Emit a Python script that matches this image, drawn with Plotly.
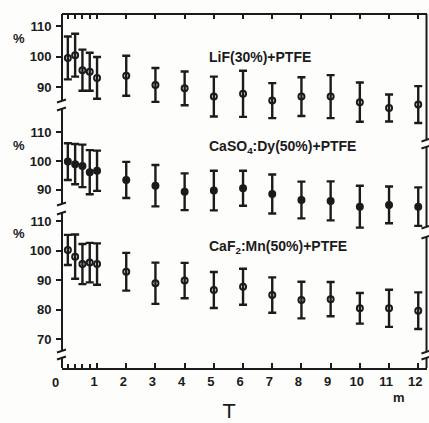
import plotly.graph_objects as go

# ---- data ----
TIME = [0, 0.25, 0.5, 0.75, 1, 2, 3, 4, 5, 6, 7, 8, 9, 10, 11, 12]
XTICK_LABELS = ["0", "", "", "", "1", "2", "3", "4", "5", "6", "7", "8", "9", "10", "11", "12"]

LIF_VAL = [99.6, 100.5, 95.6, 95.1, 93.1, 93.8, 90.8, 89.7, 87.0, 87.9, 85.7, 87.0, 87.0, 85.2, 83.3, 84.4]
LIF_ERR = [7.0, 7.0, 6.7, 6.2, 6.8, 6.5, 5.5, 5.5, 6.5, 7.5, 5.7, 6.3, 7.0, 6.4, 4.4, 6.0]

CASO4_VAL = [99.8, 98.9, 98.3, 96.1, 96.6, 93.4, 91.4, 89.3, 89.7, 90.5, 88.5, 86.4, 86.1, 84.1, 84.7, 84.1]
CASO4_ERR = [6.4, 7.0, 7.4, 7.7, 7.0, 6.3, 7.2, 6.4, 6.9, 6.1, 6.8, 6.4, 6.8, 7.3, 6.4, 6.7]

CAF2_VAL = [100.2, 97.9, 95.4, 95.9, 95.4, 92.8, 88.9, 89.8, 86.6, 87.7, 84.9, 83.2, 83.5, 80.4, 80.4, 79.6]
CAF2_ERR = [5.1, 7.5, 6.8, 6.7, 7.0, 6.4, 7.0, 6.0, 6.1, 6.1, 6.0, 6.2, 5.8, 5.2, 6.3, 6.2]

PANEL_NAMES = ["LiF(30%)+PTFE", "CaSO<sub>4</sub>:Dy(50%)+PTFE", "CaF<sub>2</sub>:Mn(50%)+PTFE"]
Y_TICKS_TOP = [90, 100, 110]
Y_TICKS_MID = [90, 100, 110]
Y_TICKS_BOT = [70, 80, 90, 100, 110]

INK = "#1b1b1b"
BG = "#fdfdfb"
FONT = "Liberation Sans"

W, H = 429, 423
ML, MR, MT, MB = 62, 2, 14, 55
PW, PH = W - ML - MR, H - MT - MB


def px_x(px):
    return (px - ML) / PW


def px_y(py):
    return (H - MB - py) / PH


fig = go.Figure()

panels = [
    (LIF_VAL, LIF_ERR, "y", "circle-open"),
    (CASO4_VAL, CASO4_ERR, "y2", "circle"),
    (CAF2_VAL, CAF2_ERR, "y3", "circle-open"),
]
for vals, errs, yax, sym in panels:
    fig.add_trace(go.Scatter(
        x=TIME, y=vals, xaxis="x", yaxis=yax, mode="markers",
        cliponaxis=False, showlegend=False, hoverinfo="skip",
        marker=dict(symbol=sym, size=6, color=INK, line=dict(width=2, color=INK)),
        error_y=dict(type="data", array=errs, visible=True, thickness=2.4, width=4, color=INK),
    ))

# invisible trace to realise the top (mirrored) x axis
fig.add_trace(go.Scatter(x=TIME[:1], y=LIF_VAL[:1], xaxis="x2", yaxis="y", mode="markers",
                         marker=dict(opacity=0), showlegend=False, hoverinfo="skip"))

tickfont = dict(family=FONT, size=13, color=INK, weight="bold")

yax_common = dict(anchor="x", showline=False, showgrid=False, zeroline=False,
                  ticks="outside", ticklen=5, tickwidth=2, tickcolor=INK,
                  tickfont=tickfont, ticklabelstandoff=2)

major_x = TIME[4:]
major_lbl = XTICK_LABELS[4:]
minor_x = TIME[:4]

fig.update_layout(
    width=W, height=H, autosize=False,
    margin=dict(l=ML, r=MR, t=MT, b=MB),
    paper_bgcolor=BG, plot_bgcolor="rgba(0,0,0,0)",
    xaxis=dict(domain=[0, 1], range=[-0.2, 12.3], anchor="y3",
               showline=True, linewidth=2, linecolor=INK, showgrid=False, zeroline=False,
               ticks="inside", ticklen=5, tickwidth=2, tickcolor=INK,
               tickmode="array", tickvals=major_x, ticktext=major_lbl,
               minor=dict(tickmode="array", tickvals=minor_x, ticks="inside", ticklen=4,
                          tickwidth=2, tickcolor=INK, showgrid=False),
               tickfont=tickfont, ticklabelshift=-3),
    xaxis2=dict(overlaying="x", matches="x", anchor="free", position=1, side="top",
                showline=True, linewidth=2, linecolor=INK, showgrid=False, zeroline=False,
                ticks="inside", ticklen=4, tickwidth=2, tickcolor=INK,
                tickmode="array", tickvals=major_x, showticklabels=False,
                minor=dict(tickmode="array", tickvals=minor_x, ticks="inside", ticklen=4,
                           tickwidth=2, tickcolor=INK, showgrid=False)),
    yaxis=dict(domain=[px_y(130), 1], range=[100 - (130 - 56.7) / 3.07, 100 + (56.7 - 14) / 3.07],
               tickmode="array", tickvals=Y_TICKS_TOP, **yax_common),
    yaxis2=dict(domain=[px_y(235), px_y(108)], range=[100 - (235 - 161) / 2.87, 100 + (161 - 108) / 2.87],
                tickmode="array", tickvals=Y_TICKS_MID, **yax_common),
    yaxis3=dict(domain=[0, px_y(212)], range=[100 - (368 - 250.5) / 2.95, 100 + (250.5 - 212) / 2.95],
                tickmode="array", tickvals=Y_TICKS_BOT, **yax_common),
)

# frame segments (left and right) with axis-break marks
shapes = []
line = dict(color=INK, width=2)
left_segments = [(14, 101), (109, 204), (213, 351), (358, 368)]
right_segments = [(14, 140), (147, 227), (237, 352), (358, 368)]
for xp, segs in ((62, left_segments), (426.5, right_segments)):
    for (a, b) in segs:
        shapes.append(dict(type="line", xref="paper", yref="paper",
                           x0=px_x(xp), x1=px_x(xp), y0=px_y(a), y1=px_y(b), line=line))
    for i, (a, b) in enumerate(segs):
        ends = []
        if i > 0:
            ends.append(a)
        if i < len(segs) - 1:
            ends.append(b)
        for e in ends:
            shapes.append(dict(type="line", xref="paper", yref="paper",
                               x0=px_x(xp - 5), x1=px_x(xp + 4),
                               y0=px_y(e + 1.5), y1=px_y(e - 1.5), line=line))
fig.update_layout(shapes=shapes)

ann = []
label_font = dict(family=FONT, size=14, color=INK, weight="bold")
for name, yp in zip(PANEL_NAMES, (57, 147, 247)):
    ann.append(dict(text=name, xref="paper", yref="paper", x=px_x(207), y=px_y(yp),
                    xanchor="left", yanchor="middle", showarrow=False, font=label_font))
for yp in (38, 145, 233):
    ann.append(dict(text="%", xref="paper", yref="paper", x=px_x(19), y=px_y(yp),
                    xanchor="center", yanchor="middle", showarrow=False, font=tickfont))
# origin label "0" sits left of the axis corner
ann.append(dict(text=XTICK_LABELS[0], xref="paper", yref="paper", x=px_x(55), y=px_y(382),
                xanchor="center", yanchor="middle", showarrow=False, font=tickfont))
ann.append(dict(text="m", xref="paper", yref="paper", x=px_x(399), y=px_y(397),
                xanchor="center", yanchor="middle", showarrow=False,
                font=dict(family=FONT, size=13, color=INK, weight="bold")))
ann.append(dict(text="T", xref="paper", yref="paper", x=px_x(229), y=px_y(411),
                xanchor="center", yanchor="middle", showarrow=False,
                font=dict(family="DejaVu Sans", size=20, color=INK)))
fig.update_layout(annotations=ann)

fig.write_html("out.html", config={"displayModeBar": False},
               post_script="document.body.style.margin='0';document.body.style.padding='0';"
                           "document.body.style.overflow='hidden';")
